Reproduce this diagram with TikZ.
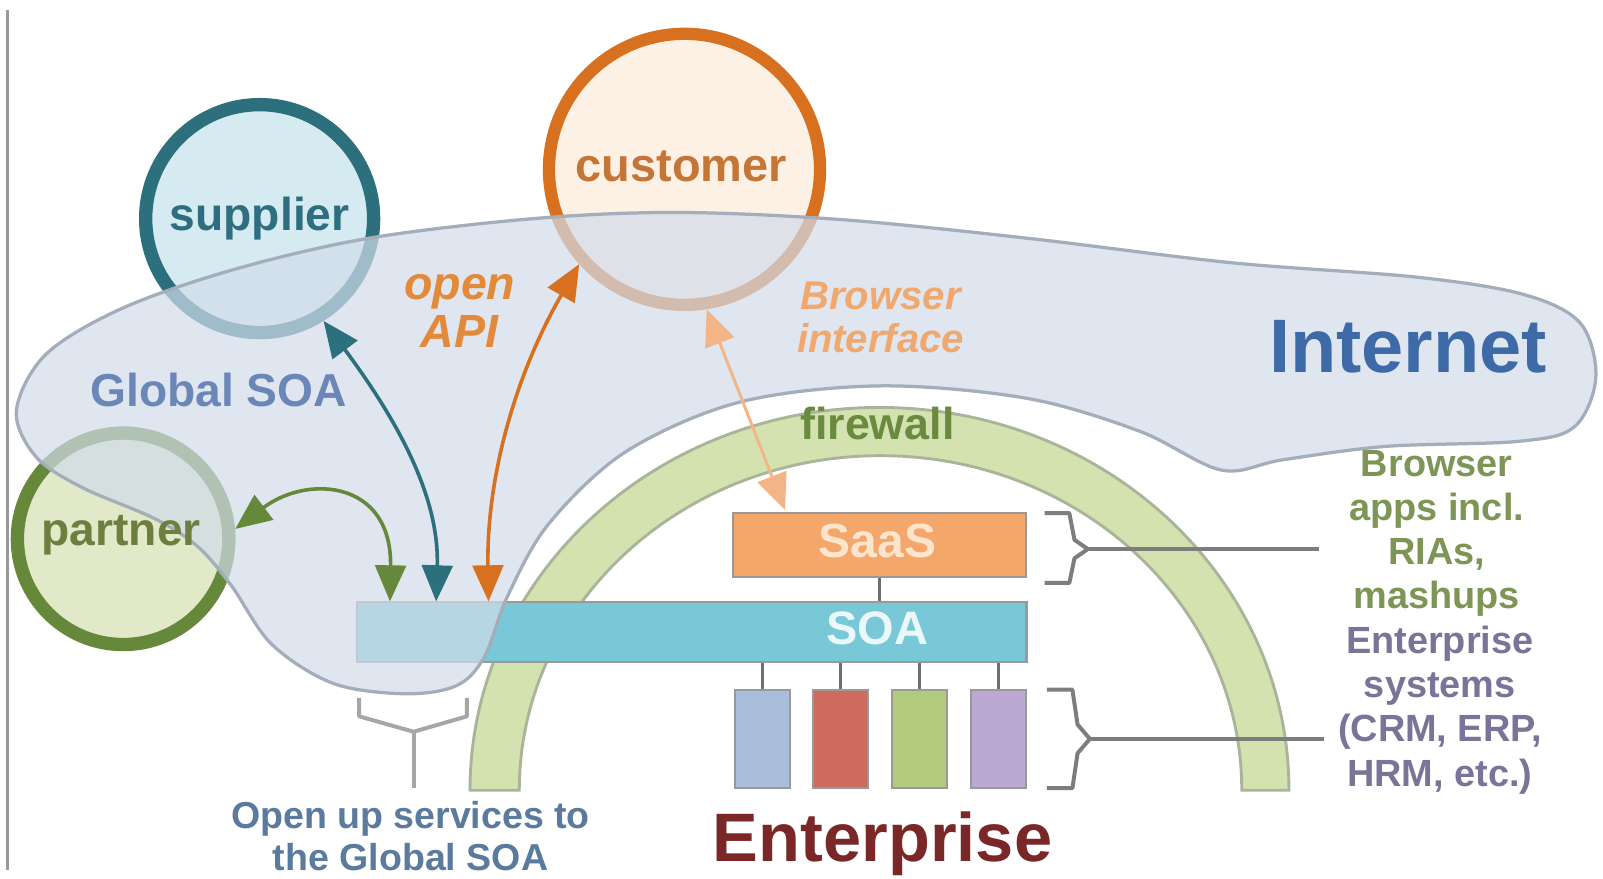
\documentclass[tikz,border=0pt]{standalone}
\usepackage{fontspec}
\setmainfont{Liberation Sans}
\usetikzlibrary{arrows.meta}
\definecolor{teal}{HTML}{2C6F7D}
\definecolor{supfill}{HTML}{D5EBF1}
\definecolor{orng}{HTML}{D8711F}
\definecolor{custfill}{HTML}{FDF0E5}
\definecolor{olive}{HTML}{66883A}
\definecolor{partfill}{HTML}{E1E9C9}
\definecolor{cloudfill}{HTML}{D2DCEA}
\definecolor{cloudline}{HTML}{A3AEBA}
\definecolor{archfill}{HTML}{D3E2AE}
\definecolor{archline}{HTML}{A9B59A}
\definecolor{saasfill}{HTML}{F4A76B}
\definecolor{saastext}{HTML}{FCE5CC}
\definecolor{soafill}{HTML}{78C8D8}
\definecolor{soatext}{HTML}{EAF8FB}
\definecolor{boxa}{HTML}{A8BDD9}
\definecolor{boxb}{HTML}{CF6A5F}
\definecolor{boxc}{HTML}{B2CA7B}
\definecolor{boxd}{HTML}{BBA8D3}
\definecolor{conn}{HTML}{6E6E6E}
\definecolor{inettext}{HTML}{3E6BA7}
\definecolor{gsoatext}{HTML}{6A87B8}
\definecolor{fwtext}{HTML}{6A8A3F}
\definecolor{apitext}{HTML}{E38A3A}
\definecolor{brtext}{HTML}{F0A86E}
\definecolor{brarrow}{HTML}{F3B585}
\definecolor{rgreen}{HTML}{7D9555}
\definecolor{rpurple}{HTML}{7B7498}
\definecolor{opentext}{HTML}{5A7B9E}
\definecolor{enttext}{HTML}{7A2727}
\definecolor{suptext}{HTML}{2F6E7F}
\definecolor{custtext}{HTML}{C57536}
\definecolor{parttext}{HTML}{6C7F3F}
\tikzset{
  ring/.style={circle, inner sep=0pt},
  lbl/.style={inner sep=0pt, font=\bfseries},
  bar/.style={draw=conn!70, line width=0.6pt, inner sep=0pt},
  sysbox/.style={bar, minimum width=0.53cm, minimum height=0.96cm},
  link/.style={draw=conn, line width=1pt},
  brace/.style={draw=conn!90, line width=1.1pt, line join=round},
  biarrow/.style={line width=1pt, {Triangle[length=10pt,width=8.5pt]}-{Triangle[length=10pt,width=8.5pt]}}
}
\begin{document}
\begin{tikzpicture}[x=0.01cm, y={(0cm,-0.01cm)}]
\path[use as bounding box, fill=white] (0,0) rectangle (1562,856);
\draw[gray!80, line width=0.8pt] (7,10) -- (7,848);

% circles
\node[ring, draw=teal, fill=supfill, line width=3.7pt, minimum size=2.22cm] (sup) at (253,213) {};
\node[ring, draw=orng, fill=custfill, line width=3.4pt, minimum size=2.64cm] (cust) at (667,165) {};
\node[ring, draw=olive, fill=partfill, line width=3.7pt, minimum size=2.06cm] (part) at (120,525) {};

% firewall arch
\path[fill=archfill, draw=archline, line width=0.8pt]
  (458,770) arc[start angle=180, end angle=360, x radius=399, y radius=373]
  -- (1210,770) arc[start angle=0, end angle=-180, x radius=352, y radius=326] -- cycle;

% enterprise blocks
\node[bar, fill=saasfill, minimum width=2.85cm, minimum height=0.62cm] (saas) at (857,531) {};
\node[bar, fill=soafill, minimum width=6.52cm, minimum height=0.58cm] (soa) at (674,616) {};
\node[sysbox, fill=boxa] (b1) at (743,720) {};
\node[sysbox, fill=boxb] (b2) at (819,720) {};
\node[sysbox, fill=boxc] (b3) at (896,720) {};
\node[sysbox, fill=boxd] (b4) at (973,720) {};
\draw[link] (saas.south) -- (saas.south |- soa.north);
\foreach \b in {b1,b2,b3,b4} \draw[link] (\b.north) -- (\b.north |- soa.south);

% cloud
\path[fill=cloudfill, fill opacity=0.7, draw=cloudline, line width=0.9pt]
  plot[smooth cycle, tension=0.55] coordinates {
   (16,400) (45,345) (120,300) (230,262) (360,232) (520,213) (660,207) (820,214)
   (1000,232) (1200,256) (1380,270) (1485,287) (1540,315) (1555,368) (1534,416)
   (1480,430) (1350,435) (1250,448) (1190,458) (1110,420) (1000,388) (857,376)
   (720,392) (610,440) (535,510) (495,580) (472,640) (445,668) (395,676)
   (325,666) (265,628) (225,570) (192,532) (150,505) (80,475) (35,445)};

% braces
\draw[brace] (1018,500) -- (1042,500) -- (1047,526) -- (1060,535) -- (1047,544) -- (1042,568) -- (1018,568);
\coordinate (bA) at (1060,535);
\coordinate (bAe) at (1285,535);
\draw[brace] (bA) -- (bAe);
\draw[brace] (1020,672) -- (1045,672) -- (1050,706) -- (1062,720) -- (1050,734) -- (1045,768) -- (1020,768);
\coordinate (bB) at (1062,720);
\coordinate (bBe) at (1290,720);
\draw[brace] (bB) -- (bBe);
\draw[brace, draw=gray!70] (350,680) -- (350,698) -- (403,713) -- (455,698) -- (455,680);
\coordinate (bC) at (403,713);
\coordinate (bCe) at (403,768);
\draw[brace, draw=gray!70] (bC) -- (bCe);

% arrow ends
\coordinate (pA) at (380,586);
\coordinate (pB) at (425,586);
\coordinate (pC) at (476,586);
\coordinate (pD) at (765,497);

% arrows
\draw[biarrow, draw=teal] (sup.-58) .. controls (395,420) and (428,490) .. (pB);
\draw[biarrow, draw=orng] (cust.-138) .. controls (505,360) and (474,460) .. (pC);
\draw[biarrow, draw=olive] (part.5) .. controls (300,462) and (382,468) .. (pA);
\draw[line width=0.8pt, draw=brarrow, {Triangle[length=10pt,width=8.5pt]}-{Triangle[length=10pt,width=8.5pt]}] (cust.-81) -- (pD);

% texts
\node[lbl, text=suptext, font=\fontsize{12.8}{14}\selectfont\bfseries] at (sup.center) {supplier};
\node[lbl, text=custtext, font=\fontsize{13}{14}\selectfont\bfseries] at (664,162) {customer};
\node[lbl, text=parttext, font=\fontsize{12.8}{14}\selectfont\bfseries] at (118,522) {partner};
\node[lbl, text=gsoatext, font=\fontsize{12.8}{14}\selectfont\bfseries] at (213,380) {Global SOA};
\node[lbl, text=inettext, font=\fontsize{21}{24}\selectfont\bfseries] at (1372,338) {Internet};
\node[lbl, text=apitext, align=center, font=\fontsize{12.9}{13.4}\selectfont\bfseries\itshape] at (448,303) {open\\API};
\node[lbl, text=brtext, align=center, font=\fontsize{11.1}{12}\selectfont\bfseries\itshape] at (858,309) {Browser\\interface};
\node[lbl, text=fwtext, font=\fontsize{12.4}{14}\selectfont\bfseries] at (855,413) {firewall};
\node[lbl, text=saastext, font=\fontsize{13.3}{14}\selectfont\bfseries] at (855,527) {SaaS};
\node[lbl, text=soatext, font=\fontsize{13}{14}\selectfont\bfseries] at (855,612) {SOA};
\node[lbl, text=rgreen, align=center, font=\fontsize{10.5}{12.2}\selectfont\bfseries] at (1400,520) {Browser\\apps incl.\\RIAs,\\mashups};
\node[lbl, text=rpurple, align=center, font=\fontsize{10.5}{12.2}\selectfont\bfseries] at (1403,692) {Enterprise\\systems\\(CRM, ERP,\\HRM, etc.)};
\node[lbl, text=opentext, align=center, font=\fontsize{10.4}{11.6}\selectfont\bfseries] at (400,815) {Open up services to\\the Global SOA};
\node[lbl, text=enttext, font=\fontsize{19}{22}\selectfont\bfseries] at (860,822) {Enterprise};
\end{tikzpicture}
\end{document}
